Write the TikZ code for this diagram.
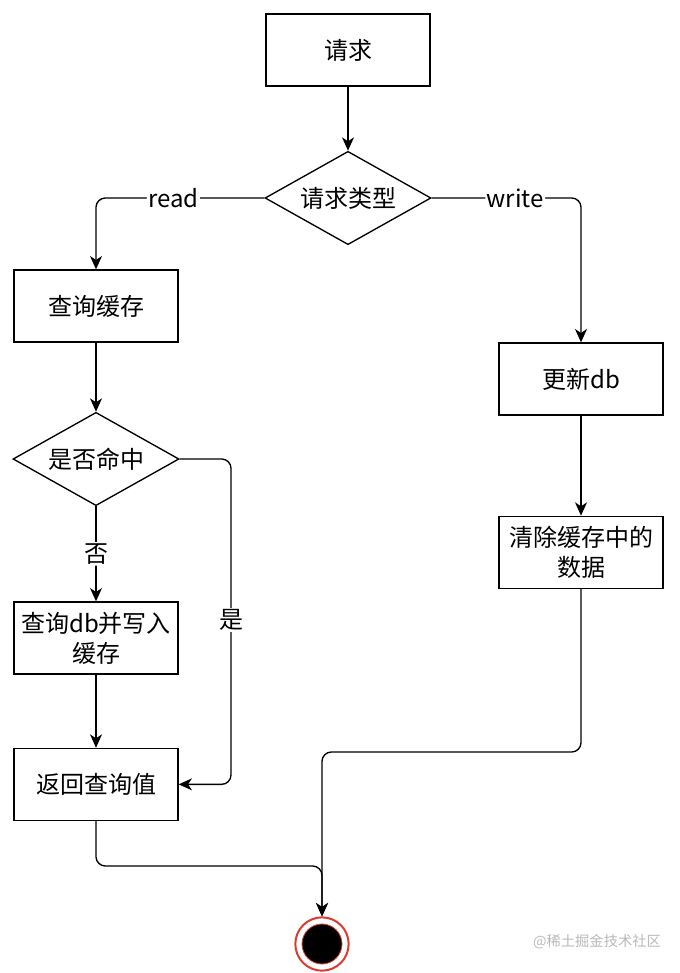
\documentclass[tikz,border=0pt]{standalone}
\usepackage{fontspec}
\setmainfont{Noto Sans CJK SC}
\usepackage{tikz}
\usetikzlibrary{arrows.meta, shapes, positioning, calc}
\definecolor{ringred}{HTML}{DD3B2F}

\begin{document}
\begin{tikzpicture}[
  x=0.75pt, y=-0.75pt,
  line/.style={draw, -{Stealth[length=10pt, width=9pt, inset=3pt]}, line width=1pt, rounded corners=7pt},
  box/.style={rectangle, draw, line width=1pt, align=center, inner sep=2pt,
              minimum width=123pt, minimum height=54pt, font=\fontsize{18}{22.5}\selectfont},
  choice/.style={diamond, draw, line width=1pt, aspect=1.79, inner sep=0pt, align=center,
              minimum width=124.5pt, minimum height=70pt, font=\fontsize{18}{22.5}\selectfont},
  lbl/.style={fill=white, inner sep=1pt, font=\fontsize{18}{22}\selectfont},
  stopnode/.style={circle, draw=ringred, line width=1.5pt, fill=white, minimum size=40pt,
              path picture={\filldraw[fill=black, draw=ringred, line width=0.6pt]
                (path picture bounding box.center) circle (15pt);}}
]
\useasboundingbox (0,0) rectangle (680,973);

% =======================================================
%                     MAIN COMPONENTS
% =======================================================
\node[box] (req) at (348,50) {请求};
\node[choice, below=48pt of req] (kind) {请求类型};

% read branch (left side)
\node[box] (cache) at (96,306) {查询缓存};
\node[choice, below=51.75pt of cache] (hit) {是否命中};
\node[box, below=71.25pt of hit] (dbw) {查询db并写入\\缓存};
\node[box, below=54.75pt of dbw] (ret) {返回查询值};

% write branch (right side)
\node[box] (upd) at (581,379) {更新db};
\node[box, below=75pt of upd] (clr) {清除缓存中的\\数据};

% end point
\node[stopnode] (stop) at (322,944) {};
\node[text=gray!55, font=\fontsize{10.7}{13}\selectfont] (mark) at (597,942) {@稀土掘金技术社区};

% =======================================================
%                     CONNECTIONS
% =======================================================
\coordinate (yesbus) at (231,620);
\coordinate (lowbus) at (200,866);
\coordinate (highbus) at (450,752);

% request -> type
\draw[line] (req.south) -- (kind.north);

% type -> read / write
\draw[line] (kind.west) -| node[lbl, pos=0.27] {read} (cache.north);
\draw[line] (kind.east) -| node[lbl, pos=0.28] {write} (upd.north);

% read chain
\draw[line] (cache.south) -- (hit.north);
\draw[line] (hit.south) -- node[lbl] {否} (dbw.north);
\draw[line] (hit.east) -| (yesbus) node[lbl] {是} |- (ret.east);
\draw[line] (dbw.south) -- (ret.north);

% write chain
\draw[line] (upd.south) -- (clr.north);

% both -> end
\draw[line] (ret.south) |- (lowbus) -| (stop.north);
\draw[line] (clr.south) |- (highbus) -| (stop.north);

\end{tikzpicture}
\end{document}
